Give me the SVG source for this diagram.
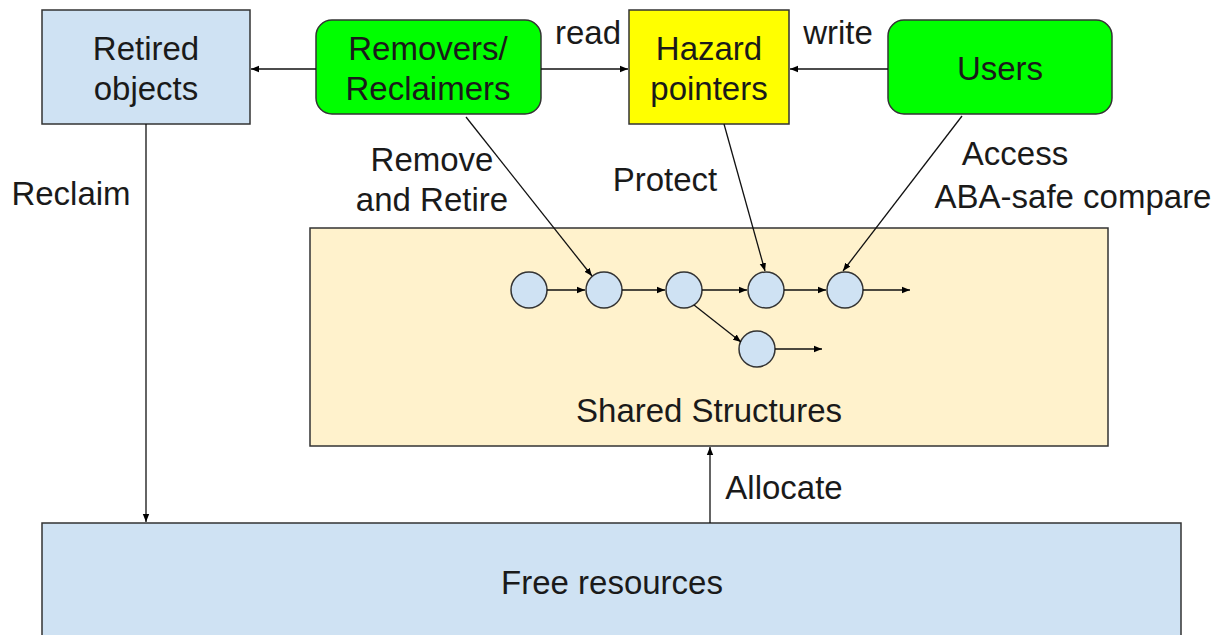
<svg xmlns="http://www.w3.org/2000/svg" width="1225" height="635" viewBox="0 0 1225 635">
<defs>
<marker id="ah" viewBox="0 0 10 10" refX="10" refY="5" markerWidth="8" markerHeight="8" markerUnits="userSpaceOnUse" orient="auto">
<path d="M0,1 L10,5 L0,9 z" fill="#000"/>
</marker>
<style>
.box{stroke:#333;stroke-width:1.5}
.blue{fill:#cfe2f3}.green{fill:#00ff00}.yellow{fill:#ffff00}.cream{fill:#fff2cc}
text{font-family:"Liberation Sans",Arial,sans-serif;font-size:33px;fill:#1a1a1a;text-anchor:middle}
.c line{stroke:#111;stroke-width:1.3;marker-end:url(#ah)}
.dot{fill:#cfe2f3;stroke:#333;stroke-width:1.5}
</style>
</defs>
<rect width="1225" height="635" fill="#fff"/>
<g id="free">
<rect class="box blue" x="42" y="523" width="1139" height="130"/>
<text x="612" y="594">Free resources</text>
</g>
<g id="shared">
<rect class="box cream" x="310" y="228" width="798" height="218"/>
<text x="709" y="422">Shared Structures</text>
</g>
<g id="retired">
<rect class="box blue" x="42" y="10" width="208" height="114"/>
<text x="146" y="60">Retired</text>
<text x="146" y="100">objects</text>
</g>
<g id="removers">
<rect class="box green" x="316" y="20" width="225" height="94" rx="16"/>
<text x="428" y="60">Removers/</text>
<text x="428" y="100">Reclaimers</text>
</g>
<g id="hazard">
<rect class="box yellow" x="629" y="10" width="160" height="114"/>
<text x="709" y="60">Hazard</text>
<text x="709" y="100">pointers</text>
</g>
<g id="users">
<rect class="box green" x="888" y="20" width="224" height="94" rx="16"/>
<text x="1000" y="80">Users</text>
</g>
<g id="nodes">
<circle class="dot" cx="529" cy="290" r="18"/>
<circle class="dot" cx="604" cy="290" r="18"/>
<circle class="dot" cx="684" cy="290" r="18"/>
<circle class="dot" cx="766" cy="290" r="18"/>
<circle class="dot" cx="845" cy="290" r="18"/>
<circle class="dot" cx="757" cy="349" r="18"/>
</g>
<g id="connectors" class="c">
<line x1="316" y1="69" x2="251" y2="69"/>
<line x1="541" y1="69" x2="628" y2="69"/>
<line x1="888" y1="69" x2="790" y2="69"/>
<line x1="146" y1="124" x2="146" y2="522"/>
<line x1="710" y1="523" x2="710" y2="447"/>
<line x1="466" y1="117" x2="592" y2="276"/>
<line x1="724" y1="124" x2="765" y2="271"/>
<line x1="962" y1="116" x2="843" y2="271"/>
<line x1="547" y1="290" x2="585" y2="290"/>
<line x1="622" y1="290" x2="665" y2="290"/>
<line x1="702" y1="290" x2="747" y2="290"/>
<line x1="784" y1="290" x2="826" y2="290"/>
<line x1="863" y1="290" x2="910" y2="290"/>
<line x1="775" y1="349" x2="822" y2="349"/>
<line x1="694" y1="305" x2="741" y2="342"/>
</g>
<g id="labels">
<text x="588" y="44">read</text>
<text x="838" y="44">write</text>
<text x="71" y="205">Reclaim</text>
<text x="432" y="171">Remove</text>
<text x="432" y="211">and Retire</text>
<text x="665" y="191">Protect</text>
<text x="1015" y="165">Access</text>
<text x="1073" y="208">ABA-safe compare</text>
<text x="784" y="499">Allocate</text>
</g>
</svg>
